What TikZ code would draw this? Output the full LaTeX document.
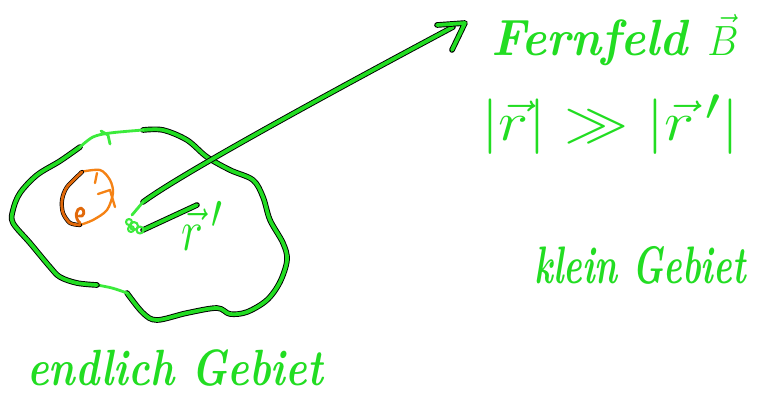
\documentclass[tikz,border=0pt]{standalone}
\usepackage{amsmath}
\usetikzlibrary{calc}
\definecolor{stift}{RGB}{34,221,34}
\definecolor{hell}{RGB}{60,235,60}
\definecolor{strom}{RGB}{245,130,20}
\definecolor{stromdunkel}{RGB}{225,105,10}
\tikzset{
  stift/.style={draw=stift, line width=3.2pt, line join=round, line cap=round,
    preaction={draw=black, line width=4.8pt, line cap=round, line join=round}},
  hellstift/.style={draw=hell, line width=2.4pt, line join=round, line cap=round},
  schrift/.style={text=stift, font=\fontsize{30}{34}\selectfont\bfseries\itshape, inner sep=0pt}
}
\begin{document}
\begin{tikzpicture}[x=0.03cm, y=-0.03cm, line join=round, line cap=round]
	\useasboundingbox (0,0) rectangle (764,407);
	\fill[white] (0,0) rectangle (764,407);
	% endliches Gebiet
	\draw[stift] plot[smooth, tension=0.55] coordinates{(143,130) (163,130) (187,140) (207,157) (230,170) (253,180) (263,197) (270,220) (283,243) (287,260) (280,282) (267,300) (247,312) (230,314) (217,308) (187,313) (157,320) (143,313) (127,293)};
	\draw[hellstift] plot[smooth, tension=0.55] coordinates{(127,293) (112,288) (97,285)};
	\draw[stift] plot[smooth, tension=0.55] coordinates{(97,285) (77,283) (60,277) (50,267) (30,243) (13,223) (13,210) (20,193) (37,175) (60,161) (80,147)};
	\draw[hellstift] plot[smooth, tension=0.55] coordinates{(80,147) (93,137) (110,133) (143,130)};
	\draw[hellstift] (101,131) -- (108,135) -- (110,144);
	% Strom
	\draw[strom, line width=2pt] plot[smooth, tension=0.5] coordinates{(80,172) (100,170) (110,180) (113,193) (107,210) (93,220) (80,225)};
	\draw[draw=stromdunkel, line width=2.4pt, preaction={draw=black, line width=3.6pt}] plot[smooth, tension=0.5] coordinates{(82,172) (67,187) (62,200) (63,213) (70,223) (80,225)};
	\draw[draw=stromdunkel, line width=2.4pt] (80,223) .. controls (74,218) and (76,208) .. (81,208) .. controls (86,210) and (84,218) .. (79,216);
	\draw[strom, line width=2pt] (97,173) -- (95,183) (98,194) -- (110,190) -- (115,207);
	% Vektoren
	\coordinate (quelle) at (143,202);
	\coordinate (fern) at (465,23);
	\coordinate (rs) at (197,205);
	\draw[stift] (quelle) .. controls (170,182) and (260,130) .. (453,27);
	\draw[stift] (437,25) -- (fern) -- (452,50);
	\draw[hellstift] (quelle) -- (132,215);
	\draw[stift] (143,230) -- (rs);
	\foreach \px/\py/\pr in {129/222/3, 134/226/4, 140/230/3.5, 131/229/3}
		\draw[hellstift, line width=1.8pt] (\px,\py) circle (\pr);
	% Beschriftung
	\node[schrift] (rstrich) at (202,226) {\scalebox{1.6}[2.0]{$\vec r\,'$}};
	\node[schrift] (fernfeld) at (615,40) {\scalebox{1.35}[1.45]{Fernfeld\ $\vec{B}$}};
	\node[schrift] (bedingung) at (610,125) {\scalebox{2.2}[1.9]{$|\vec r| \gg |\vec r\,'|$}};
	\node[schrift] (klein) at (640,265) {\scalebox{1.0}[1.5]{klein Gebiet}};
	\node[schrift] (endlich) at (175,368) {\scalebox{1.16}[1.45]{endlich Gebiet}};
\end{tikzpicture}
\end{document}
